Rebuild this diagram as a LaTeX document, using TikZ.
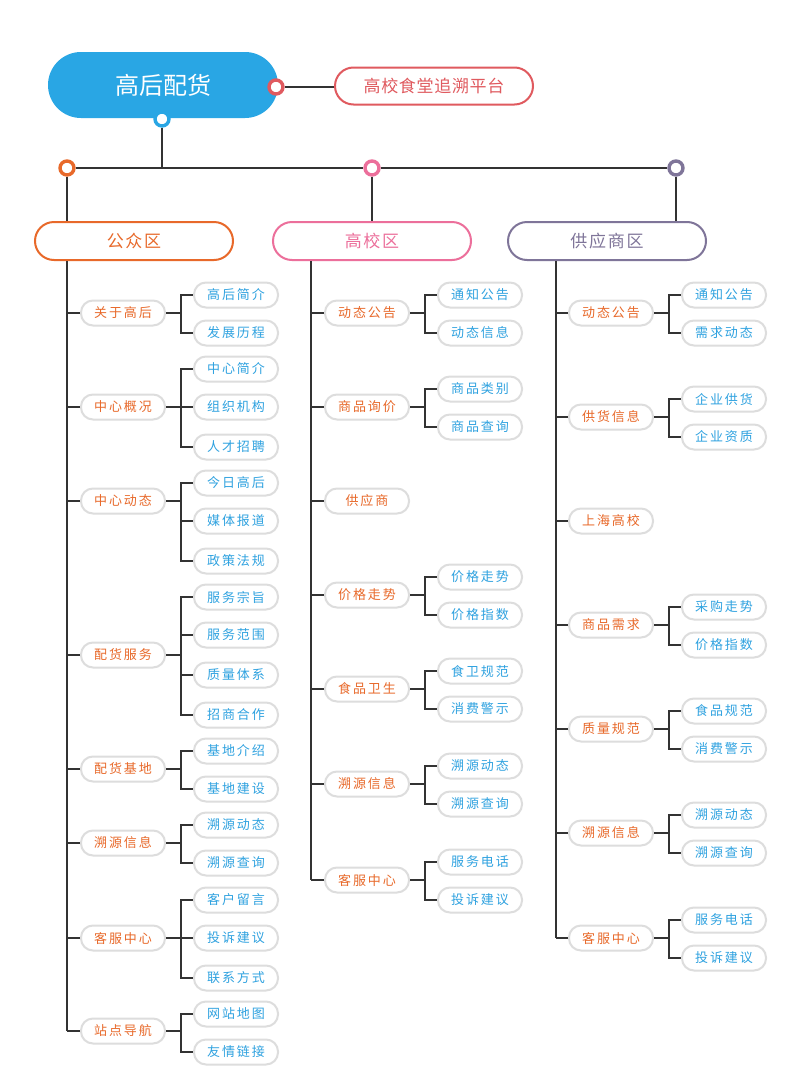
\documentclass[tikz,border=0pt]{standalone}
\usepackage{fontspec}
\setmainfont{Noto Sans CJK SC}
\newfontfamily\kuanzi[LetterSpace=15]{Noto Sans CJK SC}
\newfontfamily\quzi[LetterSpace=10]{Noto Sans CJK SC}
\newfontfamily\pingzi[LetterSpace=4]{Noto Sans CJK SC}
\usetikzlibrary{positioning}

\definecolor{zhulan}{HTML}{29A6E4}
\definecolor{hong}{HTML}{E05A5F}
\definecolor{cheng}{HTML}{E8692A}
\definecolor{fen}{HTML}{EC6F9B}
\definecolor{zi}{HTML}{7F7599}
\definecolor{lan}{HTML}{2FA2E0}
\definecolor{kuang}{HTML}{DDDDDD}
\definecolor{xian}{HTML}{333333}

\tikzset{
  lian/.style={draw=xian, line width=1.2pt},
  huan/.style={circle, draw=#1, fill=white, line width=3.4pt, minimum size=14pt, inner sep=0pt},
  qu/.style={draw=#1, text=#1, line width=2pt, fill=white, rounded corners=19pt,
    minimum width=198pt, minimum height=38pt, inner sep=0pt, font=\fontsize{17}{17}\selectfont\quzi},
  lan2/.style={draw=kuang, line width=2pt, fill=white, rounded corners=12pt,
    minimum width=84pt, minimum height=25pt, inner sep=0pt, text=cheng,
    font=\fontsize{13}{13}\selectfont\kuanzi},
  lan3/.style={lan2, text=lan},
}

\begin{document}
\begin{tikzpicture}[x=1pt, y=-1pt]
  \useasboundingbox[fill=white] (0,0) rectangle (799,1079);

  % Kopf
  \node[fill=zhulan, text=white, rounded corners=33pt, minimum width=230pt, minimum height=66pt,
    inner sep=0pt, font=\fontsize{24}{24}\selectfont] (main) at (163,85) {高后配货};
  \node[draw=hong, text=hong, line width=2pt, rounded corners=18.5pt, minimum width=198pt,
    minimum height=37pt, inner sep=0pt, font=\fontsize{17}{17}\selectfont\pingzi] (plat) at (434,86) {高校食堂追溯平台};
  \node[huan=hong] (rr) at (276,87) {};
  \node[huan=zhulan] (rb) at (162,119) {};
  \draw[lian] (rr.east) -- (plat.west |- rr);

  % Ringe
  \node[huan=cheng] (ro) at (67,168) {};
  \node[huan=fen] (rp) at (372,168) {};
  \node[huan=zi] (rv) at (676,168) {};
  \draw[lian] (ro.east) -- (rp.west);
  \draw[lian] (rp.east) -- (rv.west);
  \draw[lian] (rb.south) -- (rb.south |- ro);

  % Bereiche
  \node[qu=cheng] (gz) at (134,241) {公众区};
  \node[qu=fen] (gx) at (372,241) {高校区};
  \node[qu=zi] (gy) at (607,241) {供应商区};
  \draw[lian] (ro.south) -- (ro |- gz.north);
  \draw[lian] (rp.south) -- (rp |- gx.north);
  \draw[lian] (rv.south) -- (rv |- gy.north);

  % 公众区
  \node[lan2] (a1) at (123,313) {关于高后};
  \node[lan2] (a2) at (123,407) {中心概况};
  \node[lan2] (a3) at (123,501) {中心动态};
  \node[lan2] (a4) at (123,655) {配货服务};
  \node[lan2] (a5) at (123,769) {配货基地};
  \node[lan2] (a6) at (123,843) {溯源信息};
  \node[lan2] (a7) at (123,938) {客服中心};
  \node[lan2] (a8) at (123,1031) {站点导航};
  \node[lan3] (a11) at (236,295) {高后简介};
  \node[lan3] (a12) at (236,333) {发展历程};
  \node[lan3] (a21) at (236,369) {中心简介};
  \node[lan3] (a22) at (236,407) {组织机构};
  \node[lan3] (a23) at (236,447) {人才招聘};
  \node[lan3] (a31) at (236,483) {今日高后};
  \node[lan3] (a32) at (236,521) {媒体报道};
  \node[lan3] (a33) at (236,561) {政策法规};
  \node[lan3] (a41) at (236,597) {服务宗旨};
  \node[lan3] (a42) at (236,635) {服务范围};
  \node[lan3] (a43) at (236,675) {质量体系};
  \node[lan3] (a44) at (236,715) {招商合作};
  \node[lan3] (a51) at (236,751) {基地介绍};
  \node[lan3] (a52) at (236,789) {基地建设};
  \node[lan3] (a61) at (236,825) {溯源动态};
  \node[lan3] (a62) at (236,863) {溯源查询};
  \node[lan3] (a71) at (236,900) {客户留言};
  \node[lan3] (a72) at (236,938) {投诉建议};
  \node[lan3] (a73) at (236,978) {联系方式};
  \node[lan3] (a81) at (236,1014) {网站地图};
  \node[lan3] (a82) at (236,1052) {友情链接};

  % 高校区
  \coordinate (tb) at (311,260);
  \node[lan2] (b1) at (367,313) {动态公告};
  \node[lan2] (b2) at (367,407) {商品询价};
  \node[lan2] (b3) at (367,501) {供应商};
  \node[lan2] (b4) at (367,595) {价格走势};
  \node[lan2] (b5) at (367,689) {食品卫生};
  \node[lan2] (b6) at (367,784) {溯源信息};
  \node[lan2] (b7) at (367,880) {客服中心};
  \node[lan3] (b11) at (480,295) {通知公告};
  \node[lan3] (b12) at (480,333) {动态信息};
  \node[lan3] (b21) at (480,389) {商品类别};
  \node[lan3] (b22) at (480,427) {商品查询};
  \node[lan3] (b41) at (480,577) {价格走势};
  \node[lan3] (b42) at (480,615) {价格指数};
  \node[lan3] (b51) at (480,671) {食卫规范};
  \node[lan3] (b52) at (480,709) {消费警示};
  \node[lan3] (b61) at (480,766) {溯源动态};
  \node[lan3] (b62) at (480,804) {溯源查询};
  \node[lan3] (b71) at (480,862) {服务电话};
  \node[lan3] (b72) at (480,900) {投诉建议};

  % 供应商区
  \coordinate (tc) at (556,260);
  \node[lan2] (c1) at (611,313) {动态公告};
  \node[lan2] (c2) at (611,417) {供货信息};
  \node[lan2] (c3) at (611,521) {上海高校};
  \node[lan2] (c4) at (611,625) {商品需求};
  \node[lan2] (c5) at (611,729) {质量规范};
  \node[lan2] (c6) at (611,833) {溯源信息};
  \node[lan2] (c7) at (611,938) {客服中心};
  \node[lan3] (c11) at (724,295) {通知公告};
  \node[lan3] (c12) at (724,333) {需求动态};
  \node[lan3] (c21) at (724,399) {企业供货};
  \node[lan3] (c22) at (724,437) {企业资质};
  \node[lan3] (c41) at (724,607) {采购走势};
  \node[lan3] (c42) at (724,645) {价格指数};
  \node[lan3] (c51) at (724,711) {食品规范};
  \node[lan3] (c52) at (724,749) {消费警示};
  \node[lan3] (c61) at (724,815) {溯源动态};
  \node[lan3] (c62) at (724,853) {溯源查询};
  \node[lan3] (c71) at (724,920) {服务电话};
  \node[lan3] (c72) at (724,958) {投诉建议};

  % Stämme
  \draw[lian] (gz.south -| ro) -- (a8.west -| ro);
  \draw[lian] (gx.south -| tb) -- (b7.west -| tb);
  \draw[lian] (gy.south -| tc) -- (c7.west -| tc);
  \foreach \n in {a1,a2,a3,a4,a5,a6,a7,a8}
    \draw[lian] (\n.west) -- (\n.west -| ro);
  \foreach \n in {b1,b2,b3,b4,b5,b6,b7}
    \draw[lian] (\n.west) -- (\n.west -| tb);
  \foreach \n in {c1,c2,c3,c4,c5,c6,c7}
    \draw[lian] (\n.west) -- (\n.west -| tc);

  % Zweige
  \foreach \p/\c in {a1/a11,a1/a12,a2/a21,a2/a22,a2/a23,a3/a31,a3/a32,a3/a33,
      a4/a41,a4/a42,a4/a43,a4/a44,a5/a51,a5/a52,a6/a61,a6/a62,a7/a71,a7/a72,a7/a73,
      a8/a81,a8/a82,b1/b11,b1/b12,b2/b21,b2/b22,b4/b41,b4/b42,b5/b51,b5/b52,
      b6/b61,b6/b62,b7/b71,b7/b72,c1/c11,c1/c12,c2/c21,c2/c22,c4/c41,c4/c42,
      c5/c51,c5/c52,c6/c61,c6/c62,c7/c71,c7/c72}
    \draw[lian] (\p.east) -- ++(15,0) |- (\c.west);
\end{tikzpicture}
\end{document}
